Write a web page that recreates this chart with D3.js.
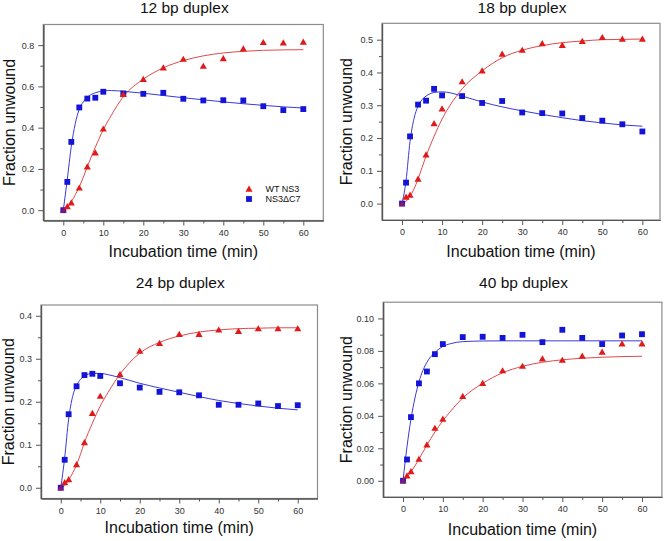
<!DOCTYPE html>
<html>
<head>
<meta charset="utf-8">
<script src="https://cdn.jsdelivr.net/npm/d3@7"></script>
<style>
  html, body { margin: 0; padding: 0; background: #fff; }
  svg { display: block; font-family: "Liberation Sans", Arial, sans-serif; }
</style>
</head>
<body>
<svg id="chart" width="664" height="541"></svg>
<script>
// ---------------- DATA ----------------
const times = [0, 1, 2, 4, 6, 8, 10, 15, 20, 25, 30, 35, 40, 45, 50, 55, 60];
const fitTimes = [0, 1, 2, 3, 4, 5, 6, 8, 10, 12, 15, 20, 25, 30, 35, 40, 45, 50, 55, 60];

const panelTitles = ["12 bp duplex", "18 bp duplex", "24 bp duplex", "40 bp duplex"];
const seriesNames = ["WT NS3", "NS3\u0394C7"];

const xTicks = [0, 10, 20, 30, 40, 50, 60];
const xMinorTicks = [5, 15, 25, 35, 45, 55];

const yTicks12 = [0.0, 0.2, 0.4, 0.6, 0.8];
const yMinor12 = [0.1, 0.3, 0.5, 0.7];
const yTicks18 = [0.0, 0.1, 0.2, 0.3, 0.4, 0.5];
const yMinor18 = [0.05, 0.15, 0.25, 0.35, 0.45];
const yTicks24 = [0.0, 0.1, 0.2, 0.3, 0.4];
const yMinor24 = [0.05, 0.15, 0.25, 0.35];
const yTicks40 = [0.00, 0.02, 0.04, 0.06, 0.08, 0.10];
const yMinor40 = [0.01, 0.03, 0.05, 0.07, 0.09];

// measured points
const wt12 = [0, 0.018, 0.036, 0.108, 0.21, 0.278, 0.394, 0.561, 0.634, 0.69, 0.732, 0.698, 0.735, 0.782, 0.813, 0.811, 0.815];
const dc12 = [0, 0.137, 0.331, 0.498, 0.541, 0.545, 0.574, 0.566, 0.564, 0.569, 0.54, 0.532, 0.533, 0.532, 0.504, 0.485, 0.49];
const wt18 = [0, 0.02, 0.026, 0.075, 0.149, 0.244, 0.289, 0.372, 0.405, 0.456, 0.468, 0.488, 0.483, 0.495, 0.507, 0.502, 0.502];
const dc18 = [0, 0.064, 0.205, 0.302, 0.314, 0.35, 0.33, 0.328, 0.307, 0.313, 0.278, 0.276, 0.275, 0.261, 0.253, 0.242, 0.22];
const wt24 = [0, 0.012, 0.019, 0.054, 0.105, 0.173, 0.213, 0.264, 0.318, 0.336, 0.357, 0.357, 0.367, 0.364, 0.37, 0.37, 0.37];
const dc24 = [0, 0.065, 0.171, 0.236, 0.262, 0.265, 0.26, 0.243, 0.233, 0.223, 0.222, 0.215, 0.193, 0.193, 0.196, 0.19, 0.192];
const wt40 = [0, 0.0031, 0.0057, 0.0133, 0.0222, 0.0324, 0.038, 0.052, 0.060, 0.0678, 0.0706, 0.0751, 0.0743, 0.0768, 0.0793, 0.0844, 0.0844];
const dc40 = [0, 0.0131, 0.0392, 0.060, 0.0673, 0.078, 0.0842, 0.0885, 0.0887, 0.088, 0.0899, 0.0854, 0.093, 0.088, 0.0842, 0.0895, 0.0903];

// fitted curves (at fitTimes)
const wtFit12 = [0, 0.015, 0.04, 0.075, 0.113, 0.16, 0.21, 0.305, 0.39, 0.46, 0.55, 0.635, 0.69, 0.725, 0.748, 0.762, 0.77, 0.775, 0.777, 0.778];
const dcFit12 = [0, 0.15, 0.31, 0.42, 0.49, 0.525, 0.548, 0.569, 0.578, 0.58, 0.576, 0.567, 0.556, 0.545, 0.535, 0.525, 0.516, 0.508, 0.501, 0.495];
const wtFit18 = [0, 0.007, 0.022, 0.045, 0.075, 0.11, 0.145, 0.205, 0.258, 0.30, 0.35, 0.405, 0.445, 0.468, 0.482, 0.491, 0.496, 0.5, 0.501, 0.502];
const dcFit18 = [0, 0.07, 0.19, 0.26, 0.297, 0.317, 0.328, 0.339, 0.341, 0.338, 0.328, 0.31, 0.295, 0.283, 0.272, 0.262, 0.253, 0.246, 0.24, 0.236];
const wtFit24 = [0, 0.005, 0.018, 0.034, 0.053, 0.078, 0.105, 0.15, 0.19, 0.222, 0.264, 0.313, 0.338, 0.353, 0.362, 0.367, 0.37, 0.371, 0.372, 0.372];
const dcFit24 = [0, 0.07, 0.16, 0.212, 0.238, 0.252, 0.26, 0.266, 0.266, 0.263, 0.256, 0.243, 0.232, 0.222, 0.212, 0.203, 0.196, 0.19, 0.185, 0.181];
const wtFit40 = [0, 0.002, 0.0055, 0.0092, 0.0133, 0.0177, 0.022, 0.030, 0.037, 0.043, 0.051, 0.060, 0.0665, 0.0705, 0.073, 0.0745, 0.0755, 0.0761, 0.0765, 0.0767];
const dcFit40 = [0, 0.021, 0.038, 0.051, 0.061, 0.068, 0.073, 0.079, 0.0827, 0.0845, 0.0857, 0.0861, 0.0862, 0.0862, 0.0862, 0.0862, 0.0862, 0.0862, 0.0862, 0.0862];

// ---------------- LAYOUT ----------------
const panels = [
  { title: panelTitles[0], wt: wt12, dc: dc12, wtFit: wtFit12, dcFit: dcFit12, yTicks: yTicks12, yMinor: yMinor12, fmt: ".1f",
    xDom: [-5, 65], xRange: [43.3, 323.3], yDom: [-0.05, 0.9], yRange: [220.5, 24.5],
    titleY: 13, xLabelY: 257, yLabelX: 15, legend: true },
  { title: panelTitles[1], wt: wt18, dc: dc18, wtFit: wtFit18, dcFit: dcFit18, yTicks: yTicks18, yMinor: yMinor18, fmt: ".1f",
    xDom: [-5, 64.4], xRange: [382, 660], yDom: [-0.05, 0.55], yRange: [220, 23.3],
    titleY: 13, xLabelY: 257, yLabelX: 352, legend: false },
  { title: panelTitles[2], wt: wt24, dc: dc24, wtFit: wtFit24, dcFit: dcFit24, yTicks: yTicks24, yMinor: yMinor24, fmt: ".1f",
    xDom: [-5, 65], xRange: [41, 317.5], yDom: [-0.025, 0.425], yRange: [498.5, 305],
    titleY: 288, xLabelY: 533, yLabelX: 13.5, legend: false },
  { title: panelTitles[3], wt: wt40, dc: dc40, wtFit: wtFit40, dcFit: dcFit40, yTicks: yTicks40, yMinor: yMinor40, fmt: ".2f",
    xDom: [-5, 65], xRange: [383.1, 661.9], yDom: [-0.01, 0.11], yRange: [497, 302.2],
    titleY: 288, xLabelY: 535, yLabelX: 352, legend: false }
];

const RED = "#e01a1a", BLUE = "#1414d8";
const RED_LINE = "#e04a4a", BLUE_LINE = "#3a3ad6";
const AXIS = "#555", FRAME = "#8c8c8c", TICKTXT = "#333";

const svg = d3.select("#chart");
const tri = d3.symbol().type(d3.symbolTriangle).size(22);
const sq = d3.symbol().type(d3.symbolSquare).size(34);

panels.forEach(p => {
  const x = d3.scaleLinear().domain(p.xDom).range(p.xRange);
  const y = d3.scaleLinear().domain(p.yDom).range(p.yRange);
  const g = svg.append("g");
  const [x0, x1] = p.xRange, [yb, yt] = p.yRange;

  // frame (top & right)
  g.append("rect").attr("x", x0).attr("y", yt).attr("width", x1 - x0).attr("height", yb - yt)
    .attr("fill", "none").attr("stroke", FRAME).attr("stroke-width", 1.2);

  // axes
  const xAxis = d3.axisBottom(x).tickValues(xTicks).tickSize(5).tickSizeOuter(0).tickPadding(4).tickFormat(d3.format("d"));
  const xMinor = d3.axisBottom(x).tickValues(xMinorTicks).tickSize(3).tickSizeOuter(0).tickFormat("");
  const yAxis = d3.axisLeft(y).tickValues(p.yTicks).tickSize(5).tickSizeOuter(0).tickPadding(4).tickFormat(d3.format(p.fmt));
  const yMinor = d3.axisLeft(y).tickValues(p.yMinor).tickSize(3).tickSizeOuter(0).tickFormat("");

  [[xAxis, "x"], [xMinor, "x"], [yAxis, "y"], [yMinor, "y"]].forEach(([ax, k]) => {
    const a = g.append("g")
      .attr("transform", k === "x" ? `translate(0,${yb})` : `translate(${x0},0)`)
      .call(ax);
    a.select(".domain").attr("stroke", AXIS).attr("stroke-width", 1.2);
    a.selectAll(".tick line").attr("stroke", AXIS).attr("stroke-width", 1);
    a.selectAll(".tick text").attr("fill", TICKTXT).style("font-size", "9px")
      .style("font-family", "'Liberation Sans', Arial, sans-serif");
  });

  // fit lines
  const line = d3.line().x((d, i) => x(fitTimes[i])).y(d => y(d)).curve(d3.curveMonotoneX);
  g.append("path").datum(p.wtFit).attr("d", line).attr("fill", "none")
    .attr("stroke", RED_LINE).attr("stroke-width", 1);
  g.append("path").datum(p.dcFit).attr("d", line).attr("fill", "none")
    .attr("stroke", BLUE_LINE).attr("stroke-width", 1);

  // markers
  g.selectAll(".sq").data(p.dc).enter().append("path")
    .attr("d", sq).attr("fill", BLUE)
    .attr("transform", (d, i) => `translate(${x(times[i])},${y(d)})`);
  g.selectAll(".tri").data(p.wt).enter().append("path")
    .attr("d", tri).attr("fill", RED).attr("fill-opacity", (d, i) => i === 0 ? 0.55 : 1)
    .attr("transform", (d, i) => `translate(${x(times[i])},${y(d) + 0.6})`);

  // titles
  const cx = (x0 + x1) / 2;
  g.append("text").attr("x", cx + 1).attr("y", p.titleY).attr("text-anchor", "middle")
    .style("font-size", "15.5px").attr("fill", "#111").text(p.title);
  g.append("text").attr("x", cx).attr("y", p.xLabelY).attr("text-anchor", "middle")
    .style("font-size", "16px").attr("fill", "#111").text("Incubation time (min)");
  g.append("text").attr("transform", `translate(${p.yLabelX},${(yb + yt) / 2}) rotate(-90)`)
    .attr("text-anchor", "middle").style("font-size", "16px").attr("fill", "#111").text("Fraction unwound");

  if (p.legend) {
    const lx = 249, ly = [189, 199];
    g.append("path").attr("d", tri).attr("fill", RED).attr("transform", `translate(${lx},${ly[0] + 0.6})`);
    g.append("path").attr("d", sq).attr("fill", BLUE).attr("transform", `translate(${lx},${ly[1]})`);
    seriesNames.forEach((s, i) => {
      g.append("text").attr("x", 265.5).attr("y", ly[i] + 3.2).style("font-size", "9px")
        .attr("fill", "#111").text(s);
    });
  }
});
</script>
</body>
</html>
